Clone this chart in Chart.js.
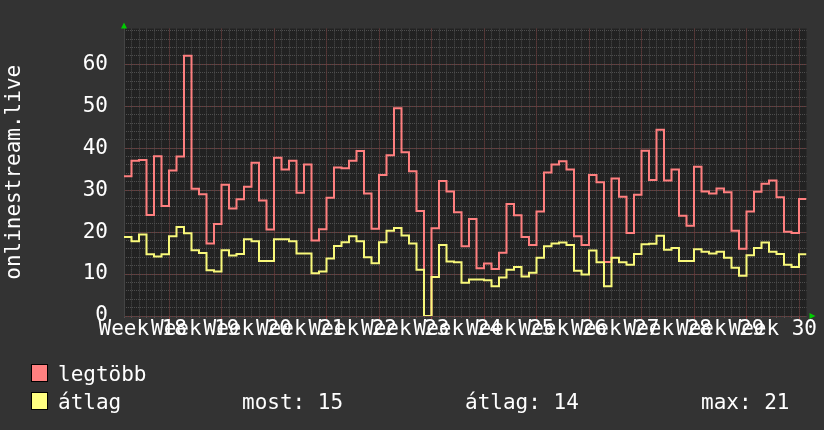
<!DOCTYPE html>
<html lang="hu">
<head>
<meta charset="UTF-8">
<title>onlinestream.live</title>
<script src="https://cdn.jsdelivr.net/npm/chart.js@4.4.0/dist/chart.umd.min.js"></script>
<style>
  html, body { margin: 0; padding: 0; background: #333333; }
  #box { width: 824px; height: 430px; }
</style>
</head>
<body>
<div id="box"><canvas id="myChart" width="824" height="430"></canvas></div>
<script>
// napi értékek (91 nap), week 18 .. week 30
const maxVals = [
  33.3, 37.0, 37.2, 24.1, 38.1, 26.2, 34.7, 38.0, 62.0, 30.3,
  29.0, 17.3, 21.9, 31.3, 25.6, 27.8, 30.8, 36.5, 27.5, 20.6,
  37.7, 34.9, 37.0, 29.4, 36.1, 18.0, 20.7, 28.2, 35.4, 35.2,
  37.0, 39.3, 29.2, 20.8, 33.6, 38.3, 49.5, 39.0, 34.5, 25.0,
  0, 20.9, 32.2, 29.7, 24.7, 16.6, 23.1, 11.4, 12.5, 11.2,
  15.1, 26.7, 24.0, 18.8, 16.9, 24.9, 34.2, 36.1, 36.9, 34.9,
  19.0, 16.9, 33.6, 31.9, 12.9, 32.8, 28.4, 19.8, 28.9, 39.4,
  32.4, 44.4, 32.3, 34.9, 23.9, 21.5, 35.6, 29.7, 29.2, 30.4,
  29.5, 20.3, 16.0, 24.9, 29.6, 31.5, 32.3, 28.3, 20.1, 19.8,
  27.9
];
const avgVals = [
  18.8, 17.8, 19.4, 14.7, 14.2, 14.7, 19.0, 21.2, 19.7, 15.7,
  15.0, 10.9, 10.6, 15.7, 14.4, 14.8, 18.3, 17.8, 13.1, 13.1,
  18.3, 18.3, 17.8, 14.9, 14.9, 10.2, 10.6, 13.7, 16.7, 17.6,
  19.0, 17.8, 14.0, 12.6, 17.6, 20.3, 21.0, 19.2, 17.3, 11.0,
  0, 9.3, 16.9, 13.0, 12.8, 7.9, 8.7, 8.7, 8.5, 7.1,
  9.2, 11.0, 11.7, 9.4, 10.3, 13.9, 16.6, 17.3, 17.5, 16.9,
  10.8, 9.9, 15.6, 12.8, 7.1, 13.9, 12.8, 12.2, 14.8, 17.1,
  17.2, 19.1, 15.8, 16.2, 13.1, 13.1, 15.9, 15.3, 14.9, 15.3,
  13.9, 11.5, 9.6, 14.5, 16.2, 17.5, 15.3, 14.8, 12.2, 11.7,
  14.7
];
const weekLabels = ['Week 18','Week 19','Week 20','Week 21','Week 22','Week 23','Week 24',
                    'Week 25','Week 26','Week 27','Week 28','Week 29','Week 30'];
const weekLabelPos = [2.5, 9.5, 16.5, 23.5, 30.5, 37.5, 44.5, 51.5, 58.5, 65.5, 72.5, 79.5, 86.5];
const weekLinePos = [6, 13, 20, 27, 34, 41, 48, 55, 62, 69, 76, 83, 90];
const yTicks = [0, 10, 20, 30, 40, 50, 60];
const seriesNames = ['legtöbb', 'átlag'];
const statTexts = ['most: 15', 'átlag: 14', 'max: 21'];

const FONT = 'DejaVu Sans Mono';
const DAYS = maxVals.length;

// lépcsős vonalhoz: minden nap egy pont + záró pont
function f_points(arr) {
  const pts = arr.map((v, i) => ({x: i, y: v}));
  pts.push({x: arr.length, y: arr[arr.length - 1]});
  return pts;
}

const bgPlugin = {
  id: 'bg',
  beforeDraw(chart) {
    const {ctx, chartArea: a} = chart;
    ctx.save();
    ctx.fillStyle = '#333333';
    ctx.fillRect(0, 0, chart.width, chart.height);
    ctx.fillStyle = '#222222';
    ctx.fillRect(a.left, a.top, a.right - a.left, a.bottom - a.top);
    ctx.restore();
  },
  afterDraw(chart) {
    const {ctx, chartArea: a} = chart;
    ctx.save();
    // tengely nyilak
    ctx.fillStyle = '#00cc00';
    ctx.beginPath();
    ctx.moveTo(a.left - 3, a.top);
    ctx.lineTo(a.left + 3, a.top);
    ctx.lineTo(a.left, a.top - 6);
    ctx.fill();
    ctx.beginPath();
    ctx.moveTo(a.right + 3, a.bottom - 3);
    ctx.lineTo(a.right + 3, a.bottom + 3);
    ctx.lineTo(a.right + 9, a.bottom);
    ctx.fill();
    // jelmagyarázat
    const colors = ['#ff8080', '#ffff80'];
    const rows = [381, 409];
    ctx.font = '21px ' + FONT;
    ctx.textBaseline = 'alphabetic';
    for (let i = 0; i < 2; i++) {
      ctx.fillStyle = colors[i];
      ctx.fillRect(32, rows[i] - 16, 15, 16);
      ctx.strokeStyle = '#000000';
      ctx.lineWidth = 1;
      ctx.strokeRect(31.5, rows[i] - 16.5, 16, 17);
      ctx.fillStyle = '#ffffff';
      ctx.fillText(seriesNames[i], 58, rows[i]);
    }
    ctx.fillText(statTexts[0], 242, rows[1]);
    ctx.fillText(statTexts[1], 465, rows[1]);
    ctx.fillText(statTexts[2], 701, rows[1]);
    ctx.restore();
  }
};

const ctx = document.getElementById('myChart').getContext('2d');
const myChart = new Chart(ctx, {
  type: 'line',
  data: {
    datasets: [
      {
        label: seriesNames[0],
        data: f_points(maxVals),
        borderColor: '#ff7f7f',
        borderWidth: 2,
        pointRadius: 0,
        stepped: 'before',
        order: 1
      },
      {
        label: seriesNames[1],
        data: f_points(avgVals),
        borderColor: '#f8f87a',
        borderWidth: 2,
        pointRadius: 0,
        stepped: 'before',
        order: 0
      }
    ]
  },
  options: {
    responsive: false,
    animation: false,
    devicePixelRatio: 1,
    layout: { padding: { top: 14.5, right: 17.5, bottom: 84, left: 0 } },
    plugins: { legend: { display: false }, tooltip: { enabled: false } },
    scales: {
      x: {
        type: 'linear', min: 0, max: DAYS, position: 'bottom', weight: 5,
        afterBuildTicks: (s) => { s.ticks = weekLabelPos.map(v => ({value: v})); },
        afterFit: (s) => { s.height = 30; },
        grid: { display: false, drawTicks: false },
        border: { display: false },
        ticks: {
          autoSkip: false, maxRotation: 0, minRotation: 0, padding: 1,
          color: '#ffffff', font: { family: FONT, size: 21 },
          callback: (v, i) => weekLabels[i]
        }
      },
      xMinor: {
        type: 'linear', min: 0, max: DAYS, position: 'bottom', weight: 0,
        afterBuildTicks: (s) => { s.ticks = maxVals.map((v, i) => ({value: i})); },
        afterFit: (s) => { s.height = 0; },
        grid: { color: '#4e4e4e', tickColor: '#555555', tickLength: 2, z: -3 },
        border: { display: false, dash: [1, 1] },
        ticks: { display: false }
      },
      xMajor: {
        type: 'linear', min: 0, max: DAYS, position: 'bottom', weight: 1,
        afterBuildTicks: (s) => { s.ticks = weekLinePos.map(v => ({value: v})); },
        afterFit: (s) => { s.height = 0; },
        grid: { color: '#6e3535', tickColor: '#8a3c3c', tickLength: 3, z: -2 },
        border: { display: false, dash: [1, 1] },
        ticks: { display: false }
      },
      y: {
        min: 0, max: 68.5, position: 'left', weight: 5,
        afterBuildTicks: (s) => { s.ticks = yTicks.map(v => ({value: v})); },
        afterFit: (s) => { s.width = 124; },
        grid: { color: '#6e3535', drawTicks: false, z: -2 },
        border: { display: true, color: '#444444', dash: [1, 1] },
        ticks: { color: '#ffffff', padding: 16, font: { family: FONT, size: 21 } },
        title: {
          display: true, text: 'onlinestream.live', color: '#ffffff',
          font: { family: FONT, size: 21 }, padding: { top: 2, bottom: 0 }
        }
      },
      yMinor: {
        min: 0, max: 68.5, position: 'left', weight: 0,
        afterBuildTicks: (s) => {
          const t = [];
          for (let v = 0; v <= 68; v += 2) t.push({value: v});
          s.ticks = t;
        },
        afterFit: (s) => { s.width = 0; },
        grid: { color: '#4e4e4e', drawTicks: false, z: -3 },
        border: { display: false, dash: [1, 1] },
        ticks: { display: false }
      }
    }
  },
  plugins: [bgPlugin]
});
</script>
</body>
</html>
